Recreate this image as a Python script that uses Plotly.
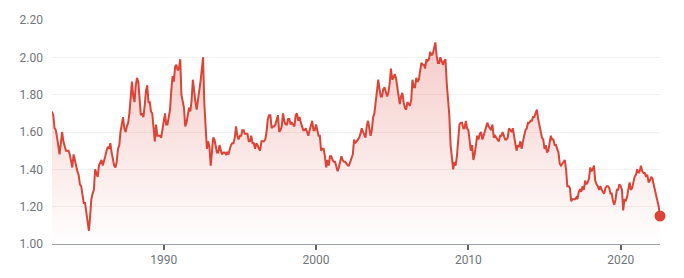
import plotly.graph_objects as go
import pandas as pd

start_month = "1982-09-01"

y1982 = [1.71, 1.69, 1.62, 1.61]
y1983 = [1.57, 1.53, 1.48, 1.54, 1.60, 1.55, 1.52, 1.50, 1.50, 1.50, 1.48, 1.44]
y1984 = [1.41, 1.48, 1.45, 1.41, 1.39, 1.37, 1.32, 1.31, 1.25, 1.22, 1.22, 1.16]
y1985 = [1.12, 1.07, 1.14, 1.24, 1.27, 1.29, 1.40, 1.38, 1.36, 1.42, 1.44, 1.45]
y1986 = [1.42, 1.44, 1.47, 1.50, 1.52, 1.51, 1.54, 1.49, 1.46, 1.42, 1.41, 1.44]
y1987 = [1.51, 1.53, 1.60, 1.64, 1.68, 1.62, 1.60, 1.63, 1.65, 1.70, 1.80, 1.87]
y1988 = [1.79, 1.76, 1.85, 1.89, 1.87, 1.75, 1.69, 1.70, 1.68, 1.74, 1.82, 1.85]
y1989 = [1.76, 1.76, 1.71, 1.70, 1.61, 1.55, 1.64, 1.58, 1.58, 1.58, 1.57, 1.61]
y1990 = [1.65, 1.70, 1.64, 1.64, 1.68, 1.72, 1.82, 1.90, 1.87, 1.95, 1.96, 1.93]
y1991 = [1.94, 1.99, 1.80, 1.75, 1.73, 1.63, 1.65, 1.69, 1.73, 1.71, 1.77, 1.88]
y1992 = [1.81, 1.76, 1.72, 1.76, 1.82, 1.87, 1.93, 2.00, 1.75, 1.60, 1.51, 1.55]
y1993 = [1.52, 1.42, 1.49, 1.57, 1.56, 1.51, 1.49, 1.49, 1.53, 1.50, 1.48, 1.49]
y1994 = [1.49, 1.48, 1.49, 1.48, 1.51, 1.53, 1.54, 1.54, 1.57, 1.63, 1.58, 1.56]
y1995 = [1.58, 1.58, 1.61, 1.61, 1.59, 1.59, 1.59, 1.55, 1.55, 1.58, 1.54, 1.54]
y1996 = [1.51, 1.54, 1.53, 1.51, 1.50, 1.55, 1.55, 1.55, 1.56, 1.60, 1.67, 1.69]
y1997 = [1.69, 1.62, 1.63, 1.63, 1.64, 1.66, 1.69, 1.60, 1.61, 1.63, 1.70, 1.66]
y1998 = [1.64, 1.64, 1.67, 1.67, 1.64, 1.65, 1.64, 1.63, 1.69, 1.70, 1.66, 1.68]
y1999 = [1.65, 1.62, 1.61, 1.61, 1.62, 1.60, 1.58, 1.61, 1.64, 1.66, 1.61, 1.61]
y2000 = [1.64, 1.60, 1.58, 1.58, 1.50, 1.51, 1.51, 1.47, 1.41, 1.45, 1.42, 1.47]
y2001 = [1.47, 1.45, 1.44, 1.44, 1.42, 1.39, 1.41, 1.44, 1.47, 1.45, 1.44, 1.44]
y2002 = [1.43, 1.42, 1.42, 1.44, 1.46, 1.48, 1.56, 1.54, 1.55, 1.56, 1.57, 1.59]
y2003 = [1.62, 1.60, 1.58, 1.57, 1.63, 1.66, 1.62, 1.58, 1.61, 1.68, 1.70, 1.76]
y2004 = [1.82, 1.88, 1.83, 1.79, 1.79, 1.83, 1.84, 1.81, 1.79, 1.81, 1.86, 1.94]
y2005 = [1.88, 1.89, 1.91, 1.89, 1.84, 1.81, 1.75, 1.79, 1.81, 1.76, 1.73, 1.72]
y2006 = [1.76, 1.75, 1.74, 1.77, 1.88, 1.84, 1.84, 1.89, 1.87, 1.88, 1.94, 1.97]
y2007 = [1.96, 1.96, 1.94, 1.99, 1.98, 1.99, 2.03, 2.01, 2.02, 2.05, 2.08, 2.01]
y2008 = [1.97, 1.97, 2.00, 1.98, 1.96, 1.98, 1.99, 1.86, 1.78, 1.69, 1.53, 1.47]
y2009 = [1.40, 1.44, 1.42, 1.47, 1.54, 1.64, 1.65, 1.65, 1.62, 1.62, 1.66, 1.62]
y2010 = [1.61, 1.56, 1.50, 1.53, 1.45, 1.48, 1.53, 1.58, 1.56, 1.59, 1.60, 1.56]
y2011 = [1.58, 1.61, 1.62, 1.65, 1.63, 1.62, 1.61, 1.64, 1.57, 1.58, 1.57, 1.56]
y2012 = [1.55, 1.58, 1.58, 1.60, 1.58, 1.56, 1.56, 1.57, 1.62, 1.61, 1.60, 1.62]
y2013 = [1.58, 1.54, 1.50, 1.53, 1.52, 1.55, 1.51, 1.55, 1.59, 1.61, 1.62, 1.65]
y2014 = [1.65, 1.66, 1.66, 1.68, 1.68, 1.70, 1.72, 1.67, 1.63, 1.61, 1.57, 1.56]
y2015 = [1.51, 1.53, 1.49, 1.50, 1.55, 1.58, 1.56, 1.56, 1.53, 1.53, 1.51, 1.49]
y2016 = [1.43, 1.42, 1.43, 1.44, 1.45, 1.40, 1.31, 1.31, 1.30, 1.23, 1.24, 1.24]
y2017 = [1.24, 1.25, 1.24, 1.28, 1.29, 1.28, 1.31, 1.29, 1.34, 1.32, 1.33, 1.35]
y2018 = [1.41, 1.39, 1.40, 1.42, 1.34, 1.32, 1.31, 1.29, 1.31, 1.29, 1.28, 1.27]
y2019 = [1.30, 1.31, 1.31, 1.30, 1.27, 1.27, 1.23, 1.21, 1.24, 1.29, 1.29, 1.32]
y2020 = [1.31, 1.29, 1.18, 1.24, 1.23, 1.25, 1.29, 1.33, 1.29, 1.30, 1.33, 1.36]
y2021 = [1.37, 1.40, 1.38, 1.39, 1.42, 1.39, 1.38, 1.38, 1.36, 1.37, 1.33, 1.34]
y2022 = [1.36, 1.35, 1.32, 1.29, 1.25, 1.22, 1.20, 1.15]

values = (y1982 + y1983 + y1984 + y1985 + y1986 + y1987 + y1988 + y1989 + y1990
          + y1991 + y1992 + y1993 + y1994 + y1995 + y1996 + y1997 + y1998 + y1999
          + y2000 + y2001 + y2002 + y2003 + y2004 + y2005 + y2006 + y2007 + y2008
          + y2009 + y2010 + y2011 + y2012 + y2013 + y2014 + y2015 + y2016 + y2017
          + y2018 + y2019 + y2020 + y2021 + y2022)
dates = pd.date_range(start_month, periods=len(values), freq="MS")

y_ticks = [1.0, 1.2, 1.4, 1.6, 1.8, 2.0, 2.2]
x_ticks = ["1990-01-01", "2000-01-01", "2010-01-01", "2020-01-01"]
x_tick_labels = ["1990", "2000", "2010", "2020"]

RED = "#db4437"

fig = go.Figure()
fig.add_trace(go.Scatter(
    x=dates, y=values, mode="lines",
    line=dict(color=RED, width=2),
    fill="tozeroy",
    fillgradient=dict(
        type="vertical",
        start=1.0, stop=2.1,
        colorscale=[[0, "rgba(219,68,55,0.0)"], [1, "rgba(219,68,55,0.28)"]],
    ),
    hoverinfo="skip",
))
fig.add_trace(go.Scatter(
    x=[dates[-1]], y=[values[-1]], mode="markers",
    marker=dict(color=RED, size=11),
    cliponaxis=False, hoverinfo="skip",
))

fig.update_layout(
    width=684, height=278,
    margin=dict(l=52, r=24, t=20, b=34),
    paper_bgcolor="white", plot_bgcolor="white",
    showlegend=False,
    font=dict(family="Roboto, Arial, sans-serif", size=12, color="#70757a"),
)
fig.update_xaxes(
    range=[dates[0], dates[-1]],
    tickvals=x_ticks, ticktext=x_tick_labels,
    showgrid=False, zeroline=False,
    showline=True, linecolor="#9aa0a6", linewidth=1,
    ticks="outside", ticklen=5, tickwidth=2, tickcolor="#5f6368",
    tickfont=dict(size=12, color="#70757a"),
)
fig.update_yaxes(
    range=[1.0, 2.2],
    tickvals=y_ticks, tickformat=".2f",
    showgrid=True, gridcolor="#f1f1f1", gridwidth=1,
    zeroline=False, showline=False,
    ticks="", ticklabelstandoff=8,
    tickfont=dict(size=12, color="#70757a"),
)

fig.write_html("out.html")
